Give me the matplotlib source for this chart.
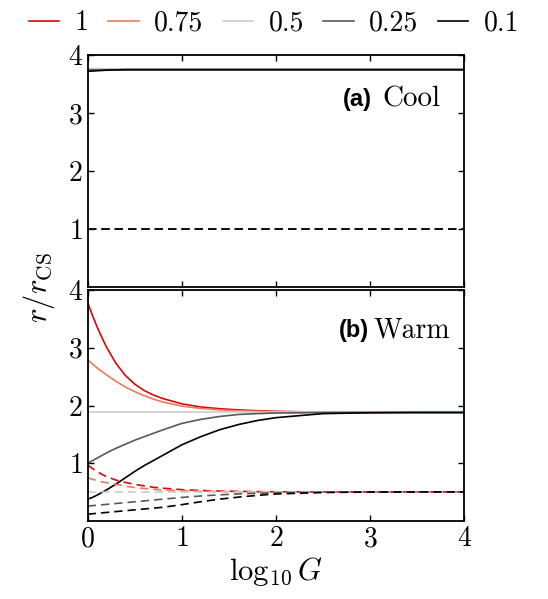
import matplotlib
matplotlib.use("Agg")
import matplotlib.pyplot as plt

plt.rcParams['font.family'] = 'serif'
plt.rcParams['font.serif'] = ['cmr10']
plt.rcParams['mathtext.fontset'] = 'cm'
plt.rcParams['axes.formatter.use_mathtext'] = True

# log10 G sample positions
logG = [0, 0.05, 0.1, 0.15, 0.2, 0.3, 0.4, 0.5, 0.6, 0.7, 0.8, 1.0, 1.2, 1.4, 1.6, 1.8, 2.0, 2.5, 3.0, 3.5, 4.0]

labels = ['1', '0.75', '0.5', '0.25', '0.1']
colors = ['#d80808', '#ea7a62', '#cccccc', '#595959', '#000000']

# (a) Cool: solid curves and dashed curves
cool_solid = {
    '1':    [3.76] * 21,
    '0.75': [3.76] * 21,
    '0.5':  [3.755] * 21,
    '0.25': [3.75] * 21,
    '0.1':  [3.72, 3.725, 3.73, 3.735, 3.74, 3.745, 3.75, 3.75, 3.75, 3.75, 3.75, 3.75, 3.75, 3.75, 3.75, 3.75, 3.75, 3.75, 3.75, 3.75, 3.75],
}
cool_dashed = {
    '1':    [1.0] * 21,
    '0.75': [1.0] * 21,
    '0.5':  [1.0] * 21,
    '0.25': [1.0] * 21,
    '0.1':  [1.0] * 21,
}

# (b) Warm
warm_solid = {
    '1':    [3.78, 3.56, 3.36, 3.18, 3.01, 2.73, 2.52, 2.37, 2.26, 2.18, 2.12, 2.03, 1.975, 1.945, 1.925, 1.91, 1.90, 1.885, 1.88, 1.88, 1.88],
    '0.75': [2.79, 2.72, 2.65, 2.59, 2.53, 2.42, 2.32, 2.24, 2.17, 2.11, 2.06, 1.99, 1.95, 1.925, 1.91, 1.90, 1.89, 1.883, 1.88, 1.88, 1.88],
    '0.5':  [1.88] * 21,
    '0.25': [1.00, 1.045, 1.09, 1.135, 1.18, 1.26, 1.33, 1.40, 1.46, 1.52, 1.58, 1.69, 1.76, 1.81, 1.845, 1.86, 1.87, 1.878, 1.88, 1.88, 1.88],
    '0.1':  [0.38, 0.41, 0.45, 0.495, 0.54, 0.64, 0.75, 0.86, 0.96, 1.05, 1.14, 1.32, 1.46, 1.58, 1.67, 1.74, 1.79, 1.86, 1.875, 1.88, 1.88],
}
warm_dashed = {
    '1':    [0.97, 0.91, 0.86, 0.81, 0.77, 0.71, 0.67, 0.635, 0.61, 0.585, 0.57, 0.545, 0.53, 0.52, 0.515, 0.51, 0.508, 0.505, 0.505, 0.505, 0.505],
    '0.75': [0.75, 0.725, 0.70, 0.68, 0.665, 0.635, 0.605, 0.58, 0.565, 0.55, 0.54, 0.527, 0.518, 0.513, 0.51, 0.508, 0.507, 0.505, 0.505, 0.505, 0.505],
    '0.5':  [0.505] * 21,
    '0.25': [0.26, 0.268, 0.275, 0.283, 0.29, 0.305, 0.32, 0.335, 0.35, 0.365, 0.38, 0.41, 0.435, 0.455, 0.47, 0.482, 0.49, 0.50, 0.505, 0.505, 0.505],
    '0.1':  [0.12, 0.128, 0.135, 0.143, 0.15, 0.165, 0.18, 0.195, 0.21, 0.225, 0.24, 0.285, 0.335, 0.38, 0.415, 0.445, 0.47, 0.495, 0.503, 0.505, 0.505],
}

fig = plt.figure(figsize=(5.48, 5.99), dpi=100)
ax1 = fig.add_axes([0.16, 0.521, 0.687, 0.387])
ax2 = fig.add_axes([0.16, 0.130, 0.687, 0.386])

for ax, solid, dashed in [(ax1, cool_solid, cool_dashed), (ax2, warm_solid, warm_dashed)]:
    for lab, c in zip(labels, colors):
        ax.plot(logG, solid[lab], color=c, lw=1.2, label=lab)
    for lab, c in zip(labels, colors):
        ax.plot(logG, dashed[lab], color=c, lw=1.2, ls=(0, (5, 3)))
    ax.set_xlim(0, 4)
    ax.set_ylim(0, 4)
    ax.set_xticks([0, 1, 2, 3, 4])
    ax.set_yticks([1, 2, 3, 4])
    ax.tick_params(direction='in', top=True, right=True, labelsize=20, length=4, width=1)
    for s in ax.spines.values():
        s.set_linewidth(1.3)

ax1.tick_params(labelbottom=False)

ax1.text(0.937, 0.81, 'Cool', transform=ax1.transAxes, ha='right', va='center', fontsize=21)
ax1.text(0.755, 0.81, '(a)', transform=ax1.transAxes, ha='right', va='center', fontsize=17,
         family='Liberation Sans', weight='bold')
ax2.text(0.963, 0.825, 'Warm', transform=ax2.transAxes, ha='right', va='center', fontsize=20)
ax2.text(0.748, 0.825, '(b)', transform=ax2.transAxes, ha='right', va='center', fontsize=17,
         family='Liberation Sans', weight='bold')

ax2.set_xlabel(r'$\log_{10}G$', fontsize=22, labelpad=2)
fig.text(0.072, 0.52, r'$r/r_{\rm CS}$', rotation=90, ha='center', va='center', fontsize=22)

handles, labs = ax1.get_legend_handles_labels()
fig.legend(handles, labs, loc='upper center', bbox_to_anchor=(0.5, 1.025), ncol=5, frameon=False,
           fontsize=20, handlelength=1.1, handletextpad=0.55, columnspacing=0.7)

fig.savefig('out.png', dpi=100)
